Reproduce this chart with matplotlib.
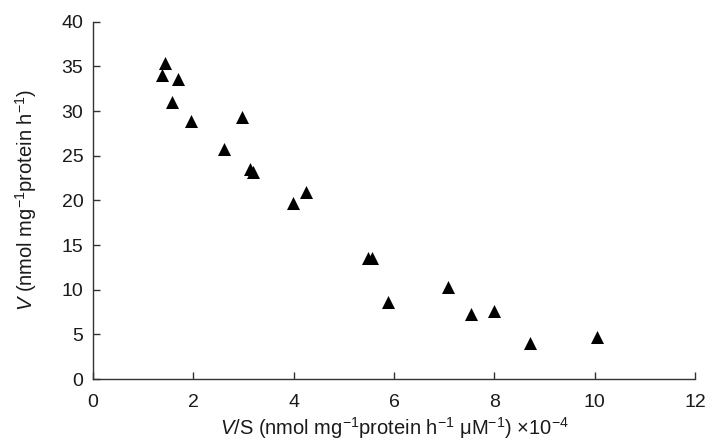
import matplotlib
matplotlib.use('Agg')
import matplotlib.pyplot as plt

# Eadie-Hofstee style data
v_over_s = [1.44, 1.37, 1.70, 1.57, 1.95, 2.98, 2.62, 3.13, 3.18, 3.99, 4.24,
            5.48, 5.56, 5.88, 7.07, 7.53, 7.99, 8.71, 10.04]
v = [35.4, 34.0, 33.6, 31.0, 28.9, 29.3, 25.8, 23.5, 23.2, 19.7, 20.9,
     13.5, 13.6, 8.6, 10.3, 7.25, 7.6, 4.0, 4.65]

x_ticks = [0, 2, 4, 6, 8, 10, 12]
y_ticks = [0, 5, 10, 15, 20, 25, 30, 35, 40]

plt.rcParams['font.family'] = ['Liberation Sans', 'DejaVu Sans']
plt.rcParams['mathtext.fontset'] = 'custom'
plt.rcParams['mathtext.rm'] = 'Liberation Sans'
plt.rcParams['mathtext.it'] = 'Liberation Sans:italic'

fig = plt.figure(figsize=(7.05, 4.4), dpi=100)
ax = fig.add_axes([0.1319, 0.1386, 0.8539, 0.812])

ax.scatter(v_over_s, v, marker='^', s=88, color='black', linewidths=0, zorder=3)

ax.set_xlim(0, 12)
ax.set_ylim(0, 40)
ax.set_xticks(x_ticks)
ax.set_yticks(y_ticks)
ax.spines['top'].set_visible(False)
ax.spines['right'].set_visible(False)
for sp in ['left', 'bottom']:
    ax.spines[sp].set_linewidth(1.0)
    ax.spines[sp].set_color('#333333')
# ticks point into the plot in the original
ax.tick_params(direction='in', length=5, width=1.0, colors='#333333',
               labelsize=14, labelcolor='#1a1a1a')
ax.tick_params(axis='x', pad=11)
ax.tick_params(axis='y', pad=7)

ax.set_xlabel(r'$\mathit{V}$/S (nmol mg$^{-1}$protein h$^{-1}$ μM$^{-1}$) $\times$10$^{-4}$',
              fontsize=14.5, labelpad=3, color='#1a1a1a')
ax.set_ylabel(r'$\mathit{V}$ (nmol mg$^{-1}$protein h$^{-1}$)',
              fontsize=14.5, labelpad=16, color='#1a1a1a')

fig.savefig('out.png', dpi=100)
